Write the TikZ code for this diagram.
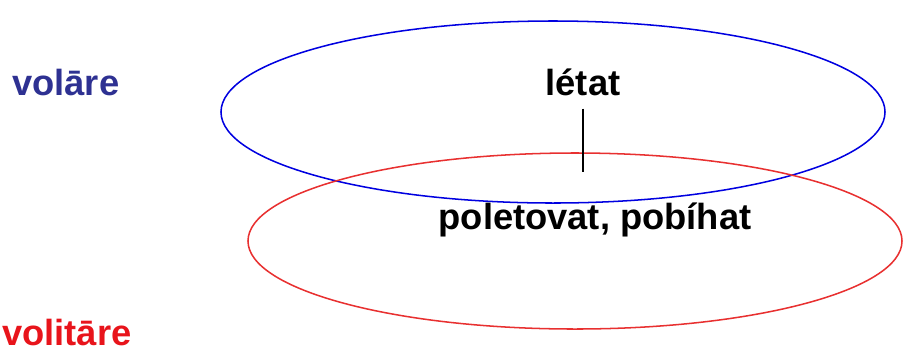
\documentclass[tikz,border=0pt]{standalone}
\usepackage{fontspec}
\setmainfont{Liberation Sans}
\usetikzlibrary{shapes.geometric,positioning}
\usepackage{xcolor}
\definecolor{latblue}{HTML}{2E3192}
\definecolor{latred}{HTML}{E8141B}
\definecolor{ringblue}{HTML}{0000E0}
\definecolor{ringred}{HTML}{E83030}
\tikzset{
  word/.style={inner sep=0pt,font=\fontsize{31}{36}\selectfont\bfseries,
               text=#1},
  ring/.style={ellipse,draw=#1,line width=1.3pt,inner sep=0pt},
  link/.style={line width=1pt,color=black},
}

\begin{document}
\begin{tikzpicture}[x=0.03cm,y=-0.03cm]
  \useasboundingbox (0,0) rectangle (904,351);

  %% ── sets ─────────────────────────────────────────────────────────────────
  \node[ring=ringblue,minimum width=19.92cm,minimum height=5.46cm]
        (volset) at (553,112) {};
  \node[ring=ringred,minimum width=19.62cm,minimum height=5.28cm]
        (volitset) at (575,241) {};

  %% ── latin verbs ──────────────────────────────────────────────────────────
  \node[word=latblue,anchor=base west] (volare)   at (12,95)  {volāre};
  \node[word=latred,anchor=base west]  (volitare) at (2,345)  {volitāre};

  %% ── czech verbs ──────────────────────────────────────────────────────────
  \node[word=black,anchor=base] (letat) at (583,95)  {létat};
  \node[word=black,anchor=base] (polet) at (595,229) {poletovat, pobíhat};

  %% ── link ─────────────────────────────────────────────────────────────────
  \draw[link,shorten <=0.39cm,shorten >=0.9cm] (letat.south) -- (letat.south |- polet.north);

\end{tikzpicture}
\end{document}
